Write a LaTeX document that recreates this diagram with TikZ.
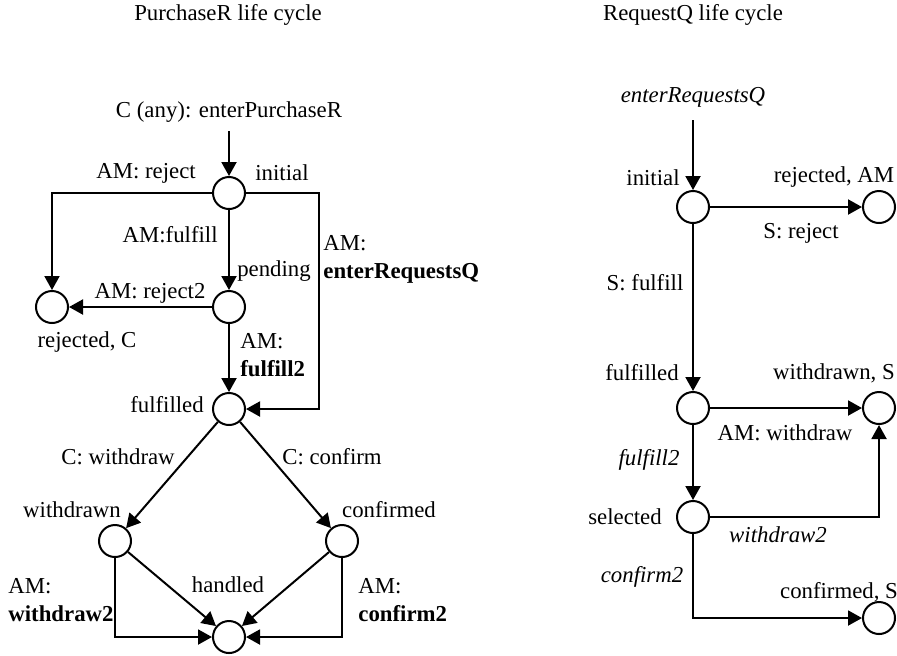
\documentclass[tikz,border=0pt]{standalone}
\usepackage{fontspec}
\setmainfont{Liberation Serif}
\usetikzlibrary{arrows.meta}

\tikzset{
  state/.style={circle, draw, line width=1pt, minimum size=16pt, inner sep=0pt},
  trans/.style={line width=1pt, -{Triangle[length=7pt,width=7.5pt]}},
  lbl/.style={inner sep=0pt, font=\fontsize{11.4}{14}\selectfont},
}

\begin{document}
\begin{tikzpicture}[x=0.5pt,y=-0.5pt]
      \useasboundingbox (0,0) rectangle (897,655);

      % PurchaseR life cycle
      \node[lbl] (titleP) at (228,15) {PurchaseR life cycle};
      \node[lbl] (startP) at (229,112) {C (any): enterPurchaseR};
      \coordinate (inP) at (229,131);

      \node[state] (pinit) at (229,193) {};
      \node[state] (prej) at (52,307) {};
      \node[state] (ppend) at (229,307) {};
      \node[state] (pful) at (229,409) {};
      \node[state] (pwd) at (115,541) {};
      \node[state] (pconf) at (342,541) {};
      \node[state] (phand) at (229,637) {};

      \node[lbl] (linit) at (282,173) {initial};
      \node[lbl] (lpend) at (274,271) {pending};
      \node[lbl] (lrej) at (87,342) {rejected, C};
      \node[lbl] (lful) at (167,405) {fulfilled};
      \node[lbl] (lwd) at (72,510) {withdrawn};
      \node[lbl] (lconf) at (389,510) {confirmed};
      \node[lbl] (lhand) at (228,585) {handled};

      \draw[trans] (inP) -- (pinit);
      \draw[trans] (pinit.west) -| (prej.north);
      \draw[trans] (pinit) -- (ppend);
      \draw[trans] (pinit.east) -- ++(73,0) |- (pful.east);
      \draw[trans] (ppend) -- (prej);
      \draw[trans] (ppend) -- (pful);
      \draw[trans] (pful) -- (pwd);
      \draw[trans] (pful) -- (pconf);
      \draw[trans] (pwd) -- (phand);
      \draw[trans] (pconf) -- (phand);
      \draw[trans] (pwd.south) |- (phand.west);
      \draw[trans] (pconf.south) |- (phand.east);

      \node[lbl] (treject) at (146,173) {AM: reject};
      \node[lbl, anchor=east] (tfulfill) at (218,235) {AM:fulfill};
      \node[lbl, anchor=west, align=left] (tenter) at (323,259) {AM:\\\textbf{enterRequestsQ}};
      \node[lbl] (treject2) at (150,293) {AM: reject2};
      \node[lbl, anchor=west, align=left] (tfulfill2) at (240,355) {AM:\\\textbf{fulfill2}};
      \node[lbl] (twithdraw) at (118,457) {C: withdraw};
      \node[lbl] (tconfirm) at (332,457) {C: confirm};
      \node[lbl, anchor=west, align=left] (twithdraw2) at (8,600) {AM:\\\textbf{withdraw2}};
      \node[lbl, anchor=west, align=left] (tconfirm2) at (358,600) {AM:\\\textbf{confirm2}};

      % RequestQ life cycle
      \node[lbl] (titleR) at (693,15) {RequestQ life cycle};
      \node[lbl] (startR) at (693,97) {\itshape enterRequestsQ};
      \coordinate (inR) at (693,120);

      \node[state] (rinit) at (693,207) {};
      \node[state] (rrej) at (879,207) {};
      \node[state] (rful) at (693,408) {};
      \node[state] (rwd) at (879,408) {};
      \node[state] (rsel) at (693,517) {};
      \node[state] (rconf) at (879,618) {};

      \node[lbl] (rlinit) at (653,178) {initial};
      \node[lbl] (rlrej) at (834,177) {rejected, AM};
      \node[lbl] (rlful) at (642,373) {fulfilled};
      \node[lbl] (rlwd) at (834,373) {withdrawn, S};
      \node[lbl] (rlsel) at (625,517) {selected};
      \node[lbl] (rlconf) at (839,592) {confirmed, S};

      \draw[trans] (inR) -- (rinit);
      \draw[trans] (rinit) -- (rrej);
      \draw[trans] (rinit) -- (rful);
      \draw[trans] (rful) -- (rwd);
      \draw[trans] (rful) -- (rsel);
      \draw[trans] (rsel.east) -| (rwd.south);
      \draw[trans] (rsel.south) |- (rconf.west);

      \node[lbl] (sreject) at (801,233) {S: reject};
      \node[lbl] (sfulfill) at (645,283) {S: fulfill};
      \node[lbl] (swithdraw) at (785,433) {AM: withdraw};
      \node[lbl] (sfulfill2) at (649,460) {\itshape fulfill2};
      \node[lbl] (swithdraw2) at (778,535) {\itshape withdraw2};
      \node[lbl] (sconfirm2) at (642,577) {\itshape confirm2};
\end{tikzpicture}
\end{document}
